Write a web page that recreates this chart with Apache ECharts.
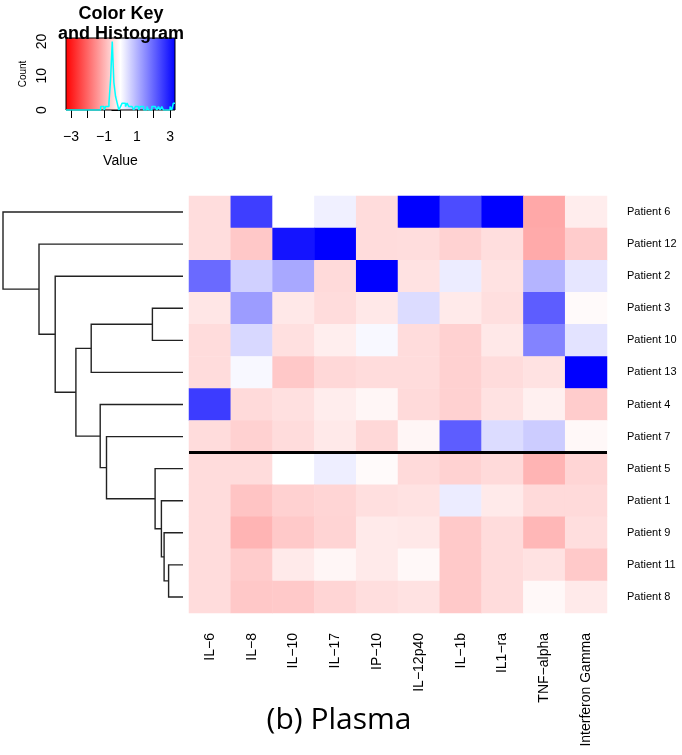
<!DOCTYPE html>
<html>
<head>
<meta charset="utf-8">
<script src="https://cdn.jsdelivr.net/npm/echarts@6/dist/echarts.min.js"></script>
<style>
  html, body { margin: 0; padding: 0; background: #fff; }
  #heatmap { width: 682px; height: 755px; }
</style>
</head>
<body>
<div id="heatmap"></div>
<script>
// Columns and rows (rows already in dendrogram order)
const cytokines = ['IL−6', 'IL−8', 'IL−10', 'IL−17', 'IP−10', 'IL−12p40', 'IL−1b', 'IL1−ra', 'TNF−alpha', 'Interferon Gamma'];
const patients = ['Patient 6', 'Patient 12', 'Patient 2', 'Patient 3', 'Patient 10', 'Patient 13', 'Patient 4',
  'Patient 7', 'Patient 5', 'Patient 1', 'Patient 9', 'Patient 11', 'Patient 8'];

// scaled values, one row per patient
const p6  = [-0.44,  2.50,  0.00,  0.19, -0.45,  3.30,  2.32,  3.30, -1.13, -0.23];
const p12 = [-0.44, -0.71,  3.04,  3.30, -0.45, -0.44, -0.58, -0.43, -1.10, -0.66];
const p2  = [ 1.93,  0.61,  1.13, -0.48,  3.30, -0.38,  0.25, -0.38,  0.97,  0.32];
const p3  = [-0.32,  1.28, -0.30, -0.45, -0.30,  0.45, -0.27, -0.41,  2.10, -0.06];
const p10 = [-0.45,  0.50, -0.40, -0.22,  0.09, -0.45, -0.60, -0.30,  1.60,  0.36];
const p13 = [-0.45,  0.09, -0.71, -0.50, -0.45, -0.45, -0.60, -0.45, -0.38,  3.30];
const p4  = [ 2.52, -0.48, -0.40, -0.23, -0.12, -0.48, -0.60, -0.38, -0.19, -0.66];
const p7  = [-0.45, -0.60, -0.45, -0.28, -0.50, -0.12,  2.10,  0.45,  0.66, -0.09];
const p5  = [-0.45, -0.45,  0.00,  0.22, -0.07, -0.48, -0.58, -0.48, -0.97, -0.54];
const p1  = [-0.45, -0.76, -0.60, -0.54, -0.41, -0.38,  0.25, -0.27, -0.48, -0.48];
const p9  = [-0.45, -0.97, -0.70, -0.56, -0.27, -0.30, -0.70, -0.45, -0.93, -0.43];
const p11 = [-0.45, -0.66, -0.27, -0.12, -0.27, -0.09, -0.70, -0.45, -0.38, -0.70];
const p8  = [-0.45, -0.71, -0.70, -0.54, -0.43, -0.38, -0.70, -0.45, -0.09, -0.27];
const rowValues = [p6, p12, p2, p3, p10, p13, p4, p7, p5, p1, p9, p11, p8];

// row dendrogram, R hclust style: negative = leaf position (1-based), positive = earlier merge step
const mergeLeft   = [-12, -11, -10, -9, -4, -8, -7,  5,    8,    -3,  -2,  -1];
const mergeRight  = [-13,   1,   2,  3, -5,  4,  6, -6,    7,     9,  10,  11];
const mergeHeight = [0.8, 1.05, 1.2, 1.55, 1.7, 4.25, 4.6, 5.1, 5.95, 7.1, 8.0, 10.0];

const separatorAfter = 'Patient 7';

// colour key range and histogram (bin left edges, width 0.1)
const keyRange = [-3.3, 3.3];
const histLeft  = [-1.2, -1.1, -1.0, -0.9, -0.8, -0.7, -0.6, -0.5, -0.4, -0.3, -0.2, -0.1, 0.0, 0.1, 0.2,
  0.3, 0.4, 0.5, 0.6, 0.7, 0.8, 0.9, 1.0, 1.1, 1.2, 1.3, 1.4, 1.5, 1.6, 1.7, 1.8, 1.9, 2.0, 2.1, 2.2,
  2.3, 2.4, 2.5, 2.6, 2.7, 2.8, 2.9, 3.0, 3.1, 3.2];
const histCount = [1, 1, 0, 1, 1, 2, 9, 20, 8, 4, 2, 0, 1, 2, 2,
  1, 2, 1, 1, 1, 0, 1, 1, 0, 1, 1, 0, 0, 1, 0, 0, 1, 1, 1, 0,
  1, 0, 1, 0, 0, 0, 0, 1, 0, 2];

const font = 'Liberation Sans';

const heatData = [];
rowValues.forEach((row, r) => row.forEach((v, c) => heatData.push([c, r, v])));

const dendroData = [];
const nodeY = [];
function childPos(c) {
  return c < 0 ? [0, -c - 1] : [mergeHeight[c - 1], nodeY[c - 1]];
}
mergeHeight.forEach((h, i) => {
  const a = childPos(mergeLeft[i]);
  const b = childPos(mergeRight[i]);
  nodeY[i] = (a[1] + b[1]) / 2;
  dendroData.push([a[0], a[1], b[0], b[1], h]);
});

const histData = [[keyRange[0], 0]];
histLeft.forEach((x, i) => histData.push([x, histCount[i]]));
histData.push([keyRange[1], histCount[histCount.length - 1]]);

const minus = v => (v < 0 ? '−' + Math.abs(v) : String(v));

const chart = echarts.init(document.getElementById('heatmap'));

const option = {
  animation: false,
  backgroundColor: '#fff',
  textStyle: { fontFamily: font },
  title: [
    {
      text: 'Color Key\nand Histogram',
      left: 121, top: 4, padding: 0, textAlign: 'center',
      textStyle: { fontFamily: font, fontSize: 18, fontWeight: 'bold', lineHeight: 20, color: '#000' }
    },
    {
      text: '(b) Plasma',
      left: 339, top: 705, padding: 0, textAlign: 'center',
      textStyle: { fontFamily: 'Open Sans', fontSize: 30, fontWeight: 'normal', color: '#000' }
    }
  ],
  visualMap: {
    show: false,
    type: 'continuous',
    seriesIndex: 2,
    min: keyRange[0],
    max: keyRange[1],
    inRange: { color: ['#ff0000', '#ffffff', '#0000ff'] }
  },
  grid: [
    { left: 66, top: 38, width: 109, height: 72 },
    { left: 3, top: 196, width: 180, height: 417 },
    { left: 189, top: 196, width: 418, height: 417 }
  ],
  xAxis: [
    {
      type: 'value', gridIndex: 0, min: keyRange[0], max: keyRange[1],
      name: 'Value', nameLocation: 'middle', nameGap: 44,
      nameTextStyle: { fontFamily: font, fontSize: 14, color: '#000' },
      axisLine: { show: false },
      axisTick: { show: true, length: 8, customValues: [-3, -2, -1, 0, 1, 2, 3], lineStyle: { color: '#000' } },
      axisLabel: { customValues: [-3, -1, 1, 3], formatter: minus, fontFamily: font, fontSize: 14, color: '#000', margin: 20 },
      splitLine: { show: false }
    },
    { type: 'value', gridIndex: 1, min: 0, max: 10, inverse: true, show: false },
    {
      type: 'category', gridIndex: 2, data: cytokines,
      axisLine: { show: false }, axisTick: { show: false },
      axisLabel: { rotate: 90, margin: 20, fontFamily: font, fontSize: 14, color: '#000', interval: 0 },
      splitLine: { show: false }
    }
  ],
  yAxis: [
    {
      type: 'value', gridIndex: 0, min: 0, max: 21,
      name: 'Count', nameLocation: 'middle', nameGap: 38, nameRotate: 90,
      nameTextStyle: { fontFamily: font, fontSize: 10, color: '#000' },
      axisLine: { show: false },
      axisTick: { show: true, length: 9, customValues: [0, 5, 10, 15, 20], lineStyle: { color: '#000' } },
      axisLabel: { customValues: [0, 10, 20], rotate: 90, fontFamily: font, fontSize: 14, color: '#000', margin: 17 },
      splitLine: { show: false }
    },
    { type: 'value', gridIndex: 1, min: -0.5, max: patients.length - 0.5, inverse: true, show: false },
    {
      type: 'category', gridIndex: 2, data: patients, inverse: true, position: 'right',
      axisLine: { show: false }, axisTick: { show: false },
      axisLabel: { margin: 20, fontFamily: font, fontSize: 11, color: '#000', interval: 0 },
      splitLine: { show: false }
    }
  ],
  series: [
    {
      // colour key gradient
      type: 'custom', xAxisIndex: 0, yAxisIndex: 0, z: 1,
      data: [[keyRange[0], 0, keyRange[1], 21]],
      encode: { x: [0, 2], y: [1, 3] },
      renderItem: function (params, api) {
        const a = api.coord([api.value(0), api.value(3)]);
        const b = api.coord([api.value(2), api.value(1)]);
        return {
          type: 'rect',
          shape: { x: a[0], y: a[1], width: b[0] - a[0], height: b[1] - a[1] },
          style: {
            fill: new echarts.graphic.LinearGradient(0, 0, 1, 0, [
              { offset: 0, color: '#ff0000' },
              { offset: 0.5, color: '#ffffff' },
              { offset: 1, color: '#0000ff' }
            ]),
            stroke: '#000', lineWidth: 1
          }
        };
      }
    },
    {
      // histogram
      type: 'line', xAxisIndex: 0, yAxisIndex: 0, z: 5,
      step: 'end', showSymbol: false, data: histData,
      lineStyle: { color: '#00ffff', width: 1.5 }
    },
    {
      type: 'heatmap', xAxisIndex: 2, yAxisIndex: 2,
      data: heatData,
      itemStyle: { borderWidth: 0 },
      emphasis: { disabled: true }
    },
    {
      // row dendrogram
      type: 'custom', xAxisIndex: 1, yAxisIndex: 1,
      data: dendroData,
      encode: { x: [0, 2, 4], y: [1, 3] },
      renderItem: function (params, api) {
        const pts = [
          api.coord([api.value(0), api.value(1)]),
          api.coord([api.value(4), api.value(1)]),
          api.coord([api.value(4), api.value(3)]),
          api.coord([api.value(2), api.value(3)])
        ];
        return { type: 'polyline', shape: { points: pts }, style: { stroke: '#222', lineWidth: 1.4, fill: null } };
      }
    },
    {
      // black separator between row groups
      type: 'custom', xAxisIndex: 2, yAxisIndex: 2, z: 6,
      data: [[0, patients.indexOf(separatorAfter)]],
      renderItem: function (params, api) {
        const row = api.value(1);
        const first = api.coord([0, row]);
        const last = api.coord([cytokines.length - 1, row]);
        const size = api.size([1, 1]);
        const y = first[1] + size[1] / 2;
        return {
          type: 'line',
          shape: { x1: first[0] - size[0] / 2, y1: y, x2: last[0] + size[0] / 2, y2: y },
          style: { stroke: '#000', lineWidth: 3 }
        };
      }
    }
  ]
};

chart.setOption(option);

window.addEventListener('resize', () => {
  chart.resize();
});
</script>
</body>
</html>
